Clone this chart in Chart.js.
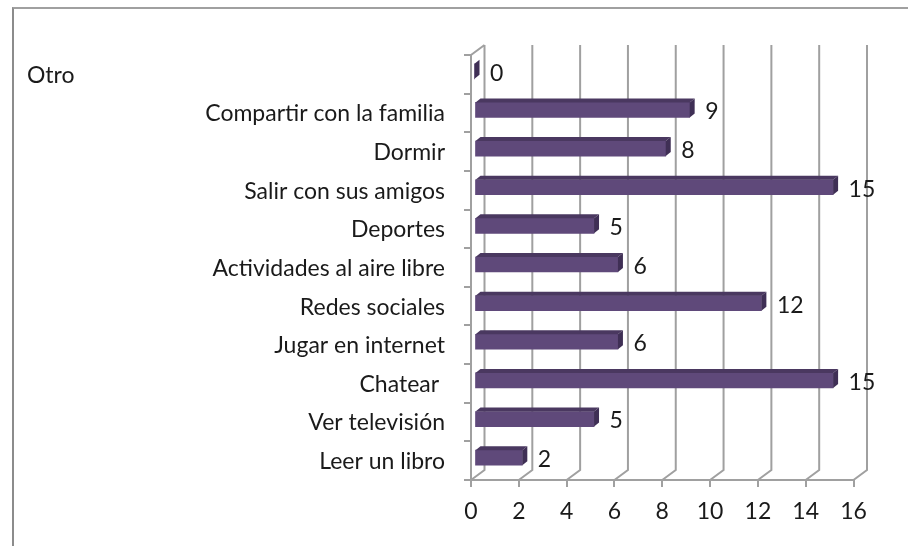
<!DOCTYPE html>
<html>
<head>
<meta charset="utf-8">
<title>Actividades</title>
<script src="https://cdn.jsdelivr.net/npm/chart.js@4"></script>
<style>
    html, body { margin: 0; padding: 0; background: #fff; overflow: hidden; }
    #marco { position: absolute; left: 12px; top: 7px; width: 896px; height: 539px; box-sizing: border-box;
             border-top: 2px solid #a0a0a0; border-left: 2px solid #8c8c8c; }
    #grafico { position: absolute; left: 0; top: 0; }
</style>
</head>
<body>
<div id="marco"></div>
<canvas id="grafico" width="908" height="546"></canvas>
<script>
// datos
const categorias = ['Otro', 'Compartir con la familia', 'Dormir', 'Salir con sus amigos', 'Deportes',
    'Actividades al aire libre', 'Redes sociales', 'Jugar en internet', 'Chatear ', 'Ver televisión', 'Leer un libro'];
const valores = [0, 9, 8, 15, 5, 6, 12, 6, 15, 5, 2];
const ticksX = [0, 2, 4, 6, 8, 10, 12, 14, 16];

const GRIS = '#a0a0a0';
const FUENTE = { family: 'Lato', size: 23 };

// paredes del grafico 3D (van detras de las barras)
const paredes = {
    id: 'paredes',
    beforeDatasetsDraw(chart) {
        const { ctx, scales, chartArea } = chart;
        const dx = 13.5, dy = -10;
        ctx.save();
        ctx.strokeStyle = GRIS;
        ctx.lineWidth = 2;
        ctx.beginPath();
        ticksX.forEach(t => {
            const x = scales.x.getPixelForValue(t);
            ctx.moveTo(x, chartArea.bottom);
            ctx.lineTo(x + dx, chartArea.bottom + dy);
            ctx.lineTo(x + dx, chartArea.top + dy);
        });
        ctx.moveTo(chartArea.left, chartArea.bottom);
        ctx.lineTo(chartArea.left, chartArea.top);
        ctx.lineTo(chartArea.left + dx, chartArea.top + dy);
        ctx.stroke();
        ctx.restore();
    }
};

// desplaza las barras y les pone cara superior y lateral
const barras3d = {
    id: 'barras3d',
    beforeDatasetDraw(chart) {
        chart.ctx.save();
        chart.ctx.translate(3.5, -3);
    },
    afterDatasetDraw(chart) {
        const ctx = chart.ctx;
        const w = 5, h = 4;
        chart.getDatasetMeta(0).data.forEach(bar => {
            const y0 = bar.y - bar.height / 2, y1 = bar.y + bar.height / 2;
            ctx.fillStyle = '#4a3860';
            ctx.beginPath();
            ctx.moveTo(bar.base, y0);
            ctx.lineTo(bar.x, y0);
            ctx.lineTo(bar.x + w, y0 - h);
            ctx.lineTo(bar.base + w, y0 - h);
            ctx.fill();
            ctx.fillStyle = '#3f2f55';
            ctx.beginPath();
            ctx.moveTo(bar.x, y0);
            ctx.lineTo(bar.x + w, y0 - h);
            ctx.lineTo(bar.x + w, y1 - h);
            ctx.lineTo(bar.x, y1);
            ctx.fill();
        });
        ctx.restore();
    }
};

// etiquetas de valor y la categoria "Otro", que va suelta a la izquierda
const textos = {
    id: 'textos',
    afterDraw(chart) {
        const ctx = chart.ctx;
        ctx.save();
        ctx.font = FUENTE.size + 'px ' + FUENTE.family;
        ctx.fillStyle = '#1a1a1a';
        ctx.textBaseline = 'middle';
        ctx.textAlign = 'left';
        chart.getDatasetMeta(0).data.forEach((bar, i) => {
            ctx.fillText(String(valores[i]), bar.x + 19, bar.y - 1);
        });
        ctx.fillText(categorias[0], 27, chart.scales.y.getPixelForValue(0) + 1);
        ctx.restore();
    }
};

new Chart(document.getElementById('grafico'), {
    type: 'bar',
    data: {
        labels: categorias,
        datasets: [{
            data: valores,
            backgroundColor: '#5f497a',
            barThickness: 15,
            borderWidth: 0,
            clip: false
        }]
    },
    options: {
        indexAxis: 'y',
        responsive: false,
        animation: false,
        layout: { padding: { left: 12, top: 55, right: 54.5, bottom: 0 } },
        plugins: { legend: { display: false }, tooltip: { enabled: false } },
        scales: {
            x: {
                min: 0,
                max: 16,
                afterBuildTicks(scale) { scale.ticks = ticksX.map(v => ({ value: v })); },
                afterFit(scale) { scale.height = 66; },
                border: { color: GRIS, width: 2 },
                grid: { drawOnChartArea: false, color: GRIS, lineWidth: 2, tickLength: 7 },
                ticks: { color: '#1a1a1a', font: FUENTE, padding: 11, maxRotation: 0 }
            },
            y: {
                afterFit(scale) { scale.width = 459; },
                border: { display: false },
                grid: { drawOnChartArea: false, color: GRIS, lineWidth: 2, tickLength: 7 },
                ticks: {
                    color: '#1a1a1a',
                    font: FUENTE,
                    padding: 19,
                    labelOffset: 1,
                    autoSkip: false,
                    callback(value, i) { return i === 0 ? '' : categorias[i]; }
                }
            }
        }
    },
    plugins: [paredes, barras3d, textos]
});
</script>
</body>
</html>
